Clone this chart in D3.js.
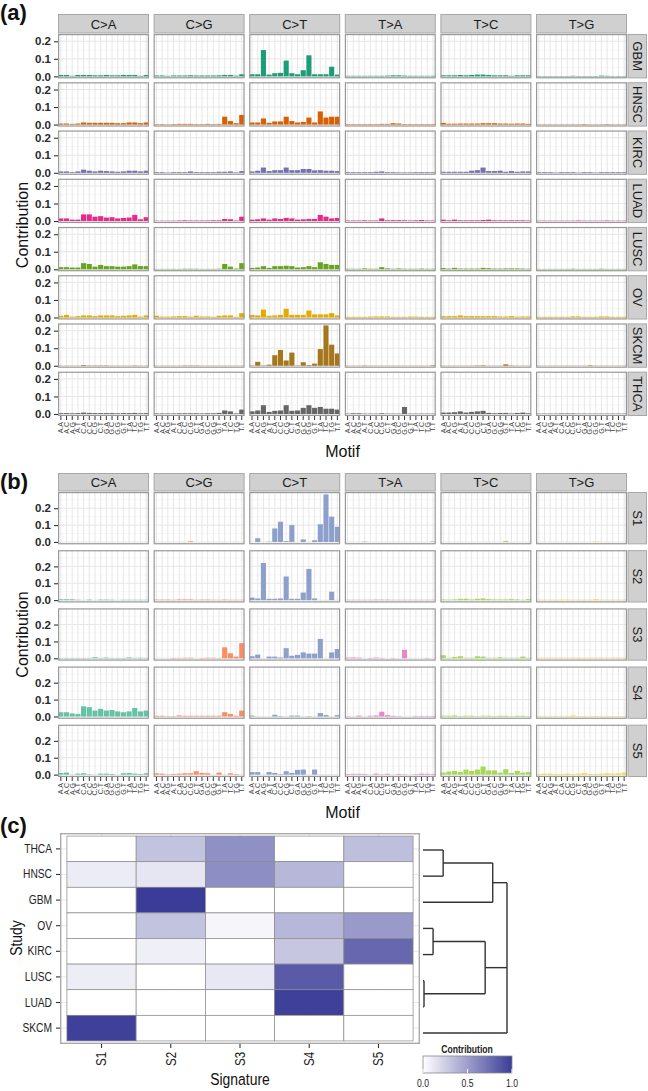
<!DOCTYPE html>
<html><head><meta charset="utf-8">
<script src="https://cdn.jsdelivr.net/npm/d3@7"></script>
<style>body{margin:0;background:#fff}</style>
</head><body><svg id="c" width="648" height="1091"></svg>
<script>
const mutTypes = ["C>A","C>G","C>T","T>A","T>C","T>G"];
const motifs = ["A.A","A.C","A.G","A.T","C.A","C.C","C.G","C.T","G.A","G.C","G.G","G.T","T.A","T.C","T.G","T.T"];
const studies = ["GBM","HNSC","KIRC","LUAD","LUSC","OV","SKCM","THCA"];
const studyColors = ["#1B9E77","#D95F02","#7570B3","#E7298A","#66A61E","#E6AB02","#A6761D","#666666"];
const signatures = ["S1","S2","S3","S4","S5"];
const typeColors = ["#66C2A5","#FC8D62","#8DA0CB","#E78AC3","#A6D854","#FFD92F"];
const yTicks = [0, 0.1, 0.2];

// study spectra (rows: C>A, C>G, C>T, T>A, T>C, T>G; 16 motifs each)
const GBM = [
 [.008,.008,.003,.008,.008,.008,.006,.006,.008,.006,.006,.008,.008,.008,.003,.008],
 [.005,.005,.003,.005,.005,.005,.006,.005,.005,.005,.005,.006,.008,.008,.004,.012],
 [.012,.012,.15,.01,.018,.02,.09,.018,.012,.035,.12,.012,.012,.012,.055,.01],
 [.003,.003,.003,.003,.003,.003,.003,.004,.006,.006,.004,.003,.003,.003,.003,.003],
 [.006,.006,.006,.008,.006,.008,.01,.01,.008,.006,.006,.006,.003,.006,.006,.006],
 [.002,.002,.002,.002,.002,.002,.003,.002,.002,.002,.002,.004,.003,.002,.002,.002]];
const HNSC = [
 [.006,.006,.004,.006,.012,.01,.01,.01,.01,.01,.008,.008,.012,.012,.008,.012],
 [.003,.003,.002,.003,.004,.004,.004,.003,.003,.004,.003,.004,.045,.02,.008,.055],
 [.012,.012,.035,.01,.018,.018,.045,.02,.012,.015,.04,.012,.075,.04,.045,.045],
 [.003,.003,.003,.003,.003,.003,.004,.004,.008,.006,.003,.003,.003,.003,.003,.003],
 [.01,.005,.005,.006,.006,.006,.006,.008,.008,.008,.006,.006,.005,.006,.006,.004],
 [.002,.002,.002,.002,.002,.002,.002,.002,.003,.002,.002,.002,.003,.002,.002,.002]];
const KIRC = [
 [.008,.008,.004,.008,.018,.012,.008,.012,.01,.008,.006,.008,.012,.012,.008,.012],
 [.004,.004,.002,.004,.004,.004,.008,.004,.004,.004,.004,.006,.006,.008,.003,.01],
 [.008,.012,.03,.01,.015,.015,.03,.015,.015,.022,.022,.014,.015,.012,.012,.01],
 [.004,.004,.004,.004,.004,.006,.008,.004,.004,.003,.003,.003,.004,.004,.004,.004],
 [.006,.006,.006,.006,.006,.012,.015,.03,.01,.01,.012,.006,.01,.006,.008,.008],
 [.004,.004,.004,.002,.004,.004,.004,.002,.004,.004,.002,.004,.004,.004,.004,.004]];
const LUAD = [
 [.015,.015,.008,.008,.038,.038,.025,.028,.02,.022,.015,.018,.02,.035,.01,.022],
 [.002,.002,.002,.002,.003,.004,.003,.003,.003,.003,.004,.004,.012,.01,.003,.025],
 [.008,.01,.015,.008,.015,.012,.018,.015,.008,.01,.012,.012,.035,.025,.015,.018],
 [.003,.003,.003,.004,.003,.003,.015,.004,.005,.005,.004,.003,.004,.006,.003,.003],
 [.008,.004,.008,.004,.004,.004,.004,.006,.008,.004,.004,.004,.004,.004,.004,.003],
 [.002,.002,.002,.002,.002,.002,.002,.003,.002,.002,.002,.002,.003,.002,.002,.002]];
const LUSC = [
 [.012,.012,.01,.01,.035,.03,.015,.025,.018,.018,.015,.015,.018,.028,.018,.018],
 [.002,.002,.002,.002,.002,.003,.003,.003,.002,.002,.002,.003,.03,.015,.004,.035],
 [.008,.01,.018,.008,.018,.018,.02,.018,.01,.012,.018,.012,.04,.03,.025,.025],
 [.003,.003,.003,.005,.003,.003,.012,.005,.003,.005,.003,.003,.003,.004,.003,.003],
 [.007,.004,.008,.004,.004,.004,.004,.008,.006,.004,.004,.005,.005,.005,.004,.003],
 [.002,.002,.002,.002,.002,.002,.003,.002,.002,.002,.002,.003,.002,.002,.002,.002]];
const OV = [
 [.01,.015,.005,.008,.012,.012,.008,.012,.012,.012,.008,.01,.012,.015,.005,.012],
 [.01,.005,.005,.006,.008,.008,.005,.01,.006,.006,.004,.01,.012,.012,.004,.025],
 [.015,.012,.045,.01,.012,.015,.05,.015,.015,.015,.04,.018,.018,.018,.025,.012],
 [.004,.004,.004,.004,.005,.006,.006,.006,.004,.004,.004,.005,.005,.004,.004,.004],
 [.008,.008,.008,.012,.008,.008,.008,.008,.008,.008,.006,.006,.008,.005,.006,.006],
 [.004,.004,.004,.004,.004,.004,.006,.006,.004,.004,.004,.006,.006,.004,.004,.004]];
const SKCM = [
 [.001,.001,.001,.001,.004,.002,.002,.002,.002,.001,.001,.001,.001,.002,.001,.001],
 [.001,.001,.001,.001,.001,.002,.002,.002,.001,.001,.001,.001,.001,.001,.001,.001],
 [.002,.022,.002,.006,.06,.09,.03,.075,.002,.02,.004,.012,.095,.23,.12,.07],
 [.001,.001,.001,.002,.001,.001,.001,.001,.001,.001,.001,.001,.001,.001,.001,.003],
 [.001,.001,.001,.001,.001,.001,.002,.003,.001,.001,.001,.008,.002,.001,.001,.001],
 [.001,.001,.001,.001,.001,.001,.001,.001,.001,.003,.001,.001,.001,.001,.001,.001]];
const THCA = [
 [.005,.005,.004,.005,.008,.006,.005,.005,.005,.005,.004,.005,.005,.006,.004,.005],
 [.003,.003,.003,.003,.004,.004,.004,.004,.003,.004,.004,.006,.02,.015,.003,.025],
 [.015,.02,.05,.012,.018,.02,.05,.018,.02,.035,.05,.035,.04,.03,.03,.025],
 [.002,.004,.004,.002,.002,.002,.004,.002,.002,.002,.04,.002,.002,.002,.002,.002],
 [.008,.008,.01,.015,.008,.012,.015,.018,.006,.004,.006,.006,.003,.006,.008,.004],
 [.002,.002,.002,.002,.003,.003,.003,.002,.002,.002,.002,.002,.002,.002,.002,.002]];

// signature spectra
const S1 = [
 [0,0,0,0,0,0,0,0,0,0,0,0,0,0,0,0],
 [0,0,0,0,0,0,.004,0,0,0,0,0,0,0,0,0],
 [0,.022,0,.002,.08,.12,.005,.1,0,.015,0,.01,.105,.282,.15,.09],
 [0,0,0,.002,0,0,0,0,0,0,0,0,0,0,0,.003],
 [0,0,0,0,0,0,0,0,0,0,0,.006,0,0,0,0],
 [0,0,0,0,0,0,0,0,0,0,.003,0,0,0,0,0]];
const S2 = [
 [.005,.005,.005,.002,0,.003,0,.003,.003,.002,0,.002,.002,.002,.002,.002],
 [.003,.003,.003,.002,.004,.004,.004,.002,.003,.003,.002,.002,.003,.002,.002,.002],
 [.015,.01,.22,.008,.008,.01,.14,.008,.008,.045,.185,.01,0,0,.05,0],
 [.002,.002,.002,.002,.002,.003,.003,.003,.002,.002,.002,.002,.002,.002,.002,.002],
 [.004,.003,.004,.008,.008,.004,.008,.01,.006,.004,.004,.004,.006,.004,.002,.006],
 [.002,.002,.002,.002,.003,.003,.002,.002,.002,.002,.006,.002,.002,.002,.002,.002]];
const S3 = [
 [.002,.002,.002,.002,.002,.002,.006,.002,.004,.002,.002,.002,.005,.002,.003,.002],
 [0,0,0,.002,.002,.003,.003,0,.002,.003,.003,.002,.065,.03,.01,.09],
 [.012,.022,0,.01,.01,.005,.06,.015,.02,.035,.028,.028,.115,0,.035,.055],
 [.004,.005,.004,0,.002,.004,.002,0,.002,0,.05,0,0,0,.002,0],
 [.018,.003,.008,.012,.003,.003,.012,.01,.003,.003,.006,.003,.003,.003,.01,.003],
 [.003,.003,.003,.003,.003,.003,.003,.003,.003,.003,.003,.003,.003,.003,.003,.003]];
const S4 = [
 [.025,.025,.018,.015,.06,.055,.035,.045,.035,.038,.03,.025,.03,.05,.03,.035],
 [.004,.004,.002,.002,.006,.004,.004,.004,.004,.004,.004,.004,.025,.015,.004,.035],
 [.005,0,0,0,.01,.002,0,.005,.005,0,.002,0,.02,.008,0,.008],
 [.002,0,.005,0,.004,.006,.028,.008,.004,.002,0,0,.003,.003,.003,.003],
 [.004,.004,.006,.002,.004,.004,.002,.004,.004,.002,.004,.004,.002,.004,.004,.002],
 [.002,.002,.002,.002,.002,.002,.006,.002,.002,.002,.002,.002,.002,.002,.002,.002]];
const S5 = [
 [.01,.012,0,.006,.008,.002,0,.006,.006,.004,0,.008,.01,.006,.004,.008],
 [.008,.006,.002,.004,.006,.008,.008,.02,.01,.008,0,.012,0,.008,.003,0],
 [.015,.015,0,.015,.01,.003,.02,.01,.028,.03,0,.03,0,0,0,0],
 [.004,.005,.005,.004,0,.006,.002,.005,0,.004,.002,0,.003,.006,.005,.004],
 [.012,.018,.022,.016,.03,.022,.03,.048,.025,.025,.012,.032,.01,.022,.012,.015],
 [.004,.006,.006,.004,.004,.006,.004,.006,.01,.004,.004,.006,.008,.006,.008,.012]];

// heatmap (c)
const heatStudies = ["THCA","HNSC","GBM","OV","KIRC","LUSC","LUAD","SKCM"];
const heatValues = [
 [0, .31, .57, 0, .33],
 [.1, .13, .58, .37, 0],
 [0, 1.0, 0, 0, 0],
 [0, .31, .05, .37, .52],
 [0, .08, 0, .29, .78],
 [.09, 0, .12, .84, 0],
 [0, 0, 0, .98, 0],
 [.98, 0, 0, 0, 0]];
const legendTicks = [0, 0.5, 1];
const dendro = {h:1, children:[
  {h:.83, children:[{h:.24, children:[{name:"THCA"},{name:"HNSC"}]},{name:"GBM"}]},
  {h:.74, children:[{h:.12, children:[{name:"OV"},{name:"KIRC"}]},{h:.012, children:[{name:"LUSC"},{name:"LUAD"}]}]},
  {name:"SKCM"}]};

const F = '"Liberation Sans", Arial, Helvetica, sans-serif';
const NS = 0.82; // narrow text factor for panel (c)
const svg = d3.select("#c");
svg.append("rect").attr("width",648).attr("height",1091).attr("fill","#fff");

const colX = d3.scaleBand().domain(mutTypes).range([58, 627]).paddingInner(0.048);

function drawFacets(rowNames, spectra, colorOf, stripTop, top, bottom, pad, titleY) {
  const rowY = d3.scaleBand().domain(rowNames).range([top, bottom]).paddingInner(pad);
  const pw = colX.bandwidth(), ph = rowY.bandwidth();
  const maxV = d3.max(spectra.flat(2));
  const dom = [-0.05*maxV, 1.05*maxV];
  mutTypes.forEach(t => {
    svg.append("rect").attr("x", colX(t)+0.5).attr("y", stripTop+0.5).attr("width", pw-1).attr("height", top-stripTop-1.5)
      .attr("fill","#D0D0D0").attr("stroke","#A8A8A8").attr("stroke-width",1);
    svg.append("text").attr("x", colX(t)+pw/2).attr("y", (stripTop+top)/2).attr("dy","0.36em")
      .attr("text-anchor","middle").style("font-family",F).style("font-size","13px").attr("fill","#1a1a1a").text(t);
  });
  rowNames.forEach((r, ri) => {
    const y = d3.scaleLinear().domain(dom).range([rowY(r)+ph, rowY(r)]);
    mutTypes.forEach((t, ti) => {
      const x = d3.scaleBand().domain(motifs).range([colX(t), colX(t)+pw]).paddingInner(0.1).paddingOuter(0.05);
      const g = svg.append("g");
      g.append("rect").attr("x", colX(t)).attr("y", rowY(r)).attr("width", pw).attr("height", ph).attr("fill","#fff");
      g.selectAll("line.mn").data([0.05,0.15,0.25].filter(v=>v<dom[1])).join("line")
        .attr("x1", colX(t)).attr("x2", colX(t)+pw).attr("y1", d=>y(d)).attr("y2", d=>y(d))
        .attr("stroke","#F2F2F2").attr("stroke-width",0.6);
      g.selectAll("line.mj").data(yTicks).join("line")
        .attr("x1", colX(t)).attr("x2", colX(t)+pw).attr("y1", d=>y(d)).attr("y2", d=>y(d))
        .attr("stroke","#E4E4E4").attr("stroke-width",0.9);
      g.selectAll("line.vx").data(motifs).join("line")
        .attr("x1", d=>x(d)+x.bandwidth()/2).attr("x2", d=>x(d)+x.bandwidth()/2).attr("y1", rowY(r)).attr("y2", rowY(r)+ph)
        .attr("stroke","#E4E4E4").attr("stroke-width",0.9);
      g.selectAll("rect.bar").data(spectra[ri][ti]).join("rect")
        .attr("x", (d,i)=>x(motifs[i])).attr("width", x.bandwidth())
        .attr("y", d=>y(Math.max(d,0))).attr("height", d=>Math.abs(y(d)-y(0)))
        .attr("fill", colorOf(ri,ti));
      g.append("rect").attr("x", colX(t)+0.6).attr("y", rowY(r)+0.6).attr("width", pw-1.2).attr("height", ph-1.2)
        .attr("fill","none").attr("stroke","#999").attr("stroke-width",1.2);
      if (ri === rowNames.length-1) {
        const ax = svg.append("g").attr("transform",`translate(0,${rowY(r)+ph})`)
          .call(d3.axisBottom(x).tickSize(4).tickSizeOuter(0));
        ax.select(".domain").remove();
        ax.selectAll(".tick line").attr("stroke","#333").attr("stroke-width",1);
        ax.selectAll(".tick text").attr("transform","rotate(-90)").attr("x",-6).attr("y",0).attr("dy","0.35em")
          .attr("text-anchor","end").style("font-family",F).style("font-size","7px").attr("fill","#444");
      }
    });
    const ay = svg.append("g").attr("transform",`translate(${colX(mutTypes[0])},0)`)
      .call(d3.axisLeft(y).tickValues(yTicks).tickFormat(d3.format(".1f")).tickSize(4).tickPadding(3));
    ay.select(".domain").remove();
    ay.selectAll(".tick line").attr("stroke","#333").attr("stroke-width",1.1);
    ay.selectAll(".tick text").style("font-family",F).style("font-size","11.5px").style("font-weight","bold").attr("fill","#2a2a2a");
    const sx = colX(mutTypes[5]) + pw + 1;
    svg.append("rect").attr("x", sx).attr("y", rowY(r)+0.5).attr("width", 18.5).attr("height", ph-1)
      .attr("fill","#D0D0D0").attr("stroke","#A8A8A8");
    svg.append("text").attr("transform",`translate(${sx+9.5},${rowY(r)+ph/2}) rotate(90)`).attr("dy","0.36em")
      .attr("text-anchor","middle").style("font-family",F).style("font-size","13px").attr("fill","#1a1a1a").text(r);
  });
  svg.append("text").attr("x", (58+627)/2).attr("y", titleY).attr("text-anchor","middle")
    .style("font-family",F).style("font-size","16px").attr("fill","#111").text("Motif");
  svg.append("text").attr("transform",`translate(28,${(top+bottom)/2}) rotate(-90)`).attr("text-anchor","middle")
    .style("font-family",F).style("font-size","16px").attr("fill","#111").text("Contribution");
}

const studySpectra = [GBM, HNSC, KIRC, LUAD, LUSC, OV, SKCM, THCA];
const sigSpectra = [S1, S2, S3, S4, S5];
drawFacets(studies, studySpectra, (ri,ti)=>studyColors[ri], 14, 34, 416, 0.08, 457);
drawFacets(signatures, sigSpectra, (ri,ti)=>typeColors[ti], 473, 492, 777, 0.1, 818);

// panel labels
[["(a)",20],["(b)",489],["(c)",833]].forEach(([t,y])=>{
  svg.append("text").attr("x",0).attr("y",y).style("font-family",F).style("font-size","22px").style("font-weight","bold").attr("fill","#111").text(t);
});

// heatmap
const xH = d3.scaleBand().domain(signatures).range([60,420]).paddingOuter(0.1).paddingInner(0);
const yH = d3.scaleBand().domain(heatStudies).range([833,1044]).paddingOuter(0.12).paddingInner(0);
const heatColor = d3.scaleLinear().domain([0,1]).range(["#FFFFFF","#3B3C98"]);
svg.append("rect").attr("x",60).attr("y",833).attr("width",360).attr("height",211).attr("fill","#fff");
svg.selectAll("line.hgy").data(heatStudies).join("line")
  .attr("x1",60).attr("x2",420).attr("y1",d=>yH(d)+yH.bandwidth()/2).attr("y2",d=>yH(d)+yH.bandwidth()/2)
  .attr("stroke","#E8E8E8");
svg.selectAll("line.hgx").data(signatures).join("line")
  .attr("y1",833).attr("y2",1044).attr("x1",d=>xH(d)+xH.bandwidth()/2).attr("x2",d=>xH(d)+xH.bandwidth()/2)
  .attr("stroke","#E8E8E8");
const cells = [];
heatStudies.forEach((s,ri)=>signatures.forEach((g,ci)=>cells.push({s,g,v:heatValues[ri][ci]})));
svg.selectAll("rect.cell").data(cells).join("rect")
  .attr("x",d=>xH(d.g)).attr("y",d=>yH(d.s)).attr("width",xH.bandwidth()).attr("height",yH.bandwidth())
  .attr("fill",d=>heatColor(d.v)).attr("stroke","#8A8A8A").attr("stroke-width",0.7);
svg.append("rect").attr("x",60.7).attr("y",833.7).attr("width",358.6).attr("height",209.6)
  .attr("fill","none").attr("stroke","#AAAAAA").attr("stroke-width",1.4);
const hy = svg.append("g").attr("transform","translate(60,0)").call(d3.axisLeft(yH).tickSize(4).tickPadding(3));
hy.select(".domain").remove();
hy.selectAll(".tick line").attr("stroke","#333").attr("stroke-width",1.1);
hy.selectAll(".tick text").attr("transform",`scale(${NS},1)`).attr("x",-8/NS)
  .style("font-family",F).style("font-size","12.5px").attr("fill","#222");
const hx = svg.append("g").attr("transform","translate(0,1044)").call(d3.axisBottom(xH).tickSize(4));
hx.select(".domain").remove();
hx.selectAll(".tick line").attr("stroke","#333").attr("stroke-width",1.1);
hx.selectAll(".tick text").attr("transform",`rotate(-90) scale(${NS},1)`).attr("x",-8/NS).attr("y",0).attr("dy","0.35em")
  .attr("text-anchor","end").style("font-family",F).style("font-size","14px").attr("fill","#222");
svg.append("text").attr("transform",`translate(240,1085) scale(${NS},1)`).attr("text-anchor","middle")
  .style("font-family",F).style("font-size","17px").attr("fill","#111").text("Signature");
svg.append("text").attr("transform",`translate(22,938) rotate(-90) scale(${NS},1)`).attr("text-anchor","middle")
  .style("font-family",F).style("font-size","17px").attr("fill","#111").text("Study");

// dendrogram
const yLeaf = d3.scalePoint().domain(heatStudies).range([850,1033]);
const xD = d3.scaleLinear().domain([0,1]).range([423,507]);
function place(n){ if(!n.children){ n.h=0; n.y=yLeaf(n.name); } else { n.children.forEach(place); n.y=(n.children[0].y+n.children[n.children.length-1].y)/2; } }
place(dendro);
const dg = svg.append("g").attr("stroke","#333").attr("stroke-width",1.4).attr("fill","none");
function drawNode(n){
  if(!n.children) return;
  const ys = n.children.map(c=>c.y);
  dg.append("line").attr("x1",xD(n.h)).attr("x2",xD(n.h)).attr("y1",d3.min(ys)).attr("y2",d3.max(ys));
  n.children.forEach(c=>{
    dg.append("line").attr("x1",xD(c.h)).attr("x2",xD(n.h)).attr("y1",c.y).attr("y2",c.y);
    drawNode(c);
  });
}
drawNode(dendro);

// legend
const lx = d3.scaleLinear().domain([0,1]).range([423,512]);
const defs = svg.append("defs");
const grad = defs.append("linearGradient").attr("id","lg");
d3.range(0,1.01,0.1).forEach(v=>grad.append("stop").attr("offset",v).attr("stop-color",heatColor(v)));
svg.append("text").attr("transform",`translate(467,1053) scale(${NS},1)`).attr("text-anchor","middle")
  .style("font-family",F).style("font-size","10.5px").style("font-weight","bold").attr("fill","#222").text("Contribution");
svg.append("rect").attr("x",423).attr("y",1056).attr("width",89).attr("height",17).attr("fill","url(#lg)").attr("stroke","#888").attr("stroke-width",0.8);
svg.selectAll("line.lt").data(legendTicks).join("line")
  .attr("x1",d=>lx(d)).attr("x2",d=>lx(d)).attr("y1",1069).attr("y2",1073).attr("stroke","#fff");
svg.selectAll("text.ll").data(legendTicks).join("text")
  .attr("transform",d=>`translate(${lx(d)},1087) scale(${NS},1)`).attr("text-anchor","middle")
  .style("font-family",F).style("font-size","10.5px").attr("fill","#222")
  .text(d=>d3.format(".1f")(d));
</script></body></html>
